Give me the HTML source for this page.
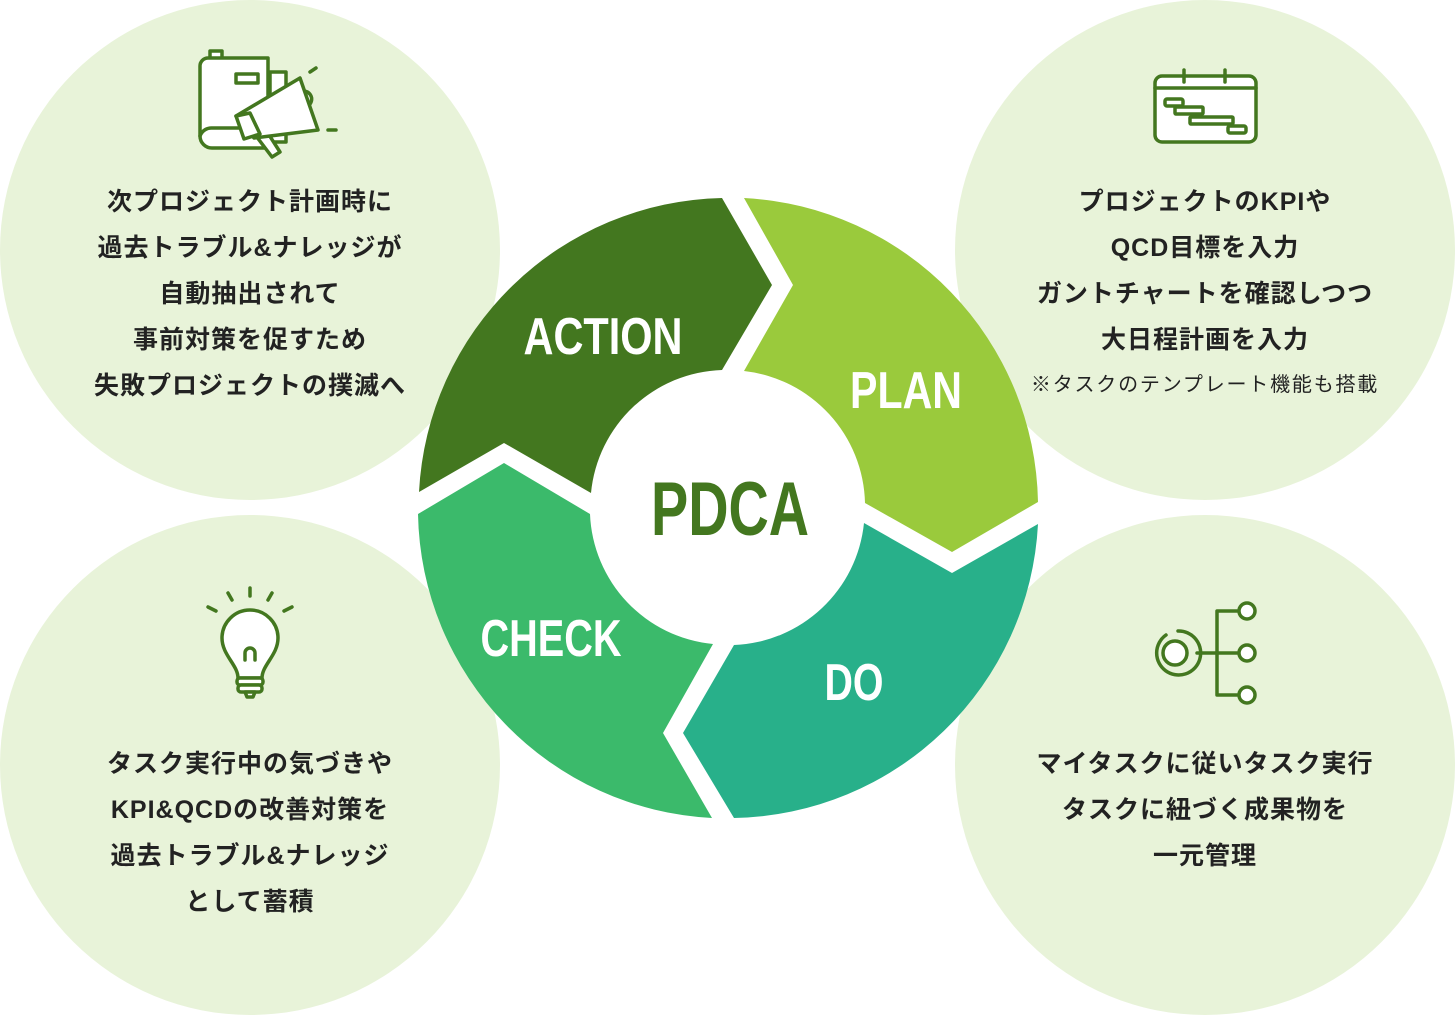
<!DOCTYPE html>
<html><head><meta charset="utf-8"><style>
html,body{margin:0;padding:0;background:#fff;}
svg{display:block}
.t{font-family:"Liberation Sans","Noto Sans CJK JP",sans-serif;font-weight:bold;font-size:25px;letter-spacing:1px;fill:#222;text-anchor:middle}
.s{font-family:"Liberation Sans","Noto Sans CJK JP",sans-serif;font-size:20px;letter-spacing:1.8px;fill:#222;text-anchor:middle}
.l{font-family:"Liberation Sans",sans-serif;font-weight:bold;fill:#fff;text-anchor:middle}
.ic{fill:#fff;stroke:#43771f;stroke-width:3.5;stroke-linejoin:round;stroke-linecap:round}
.ln{fill:none;stroke:#43771f;stroke-width:3.5;stroke-linecap:round}
</style></head><body>
<svg width="1456" height="1016" viewBox="0 0 1456 1016" xmlns="http://www.w3.org/2000/svg">
<g fill="#e8f3d9">
<circle cx="250" cy="250" r="250"/>
<circle cx="1205" cy="250" r="250"/>
<circle cx="250" cy="765" r="250"/>
<circle cx="1205" cy="765" r="250"/>
</g>
<path fill="#43771f" d="M722,198 L772,285 L722,370 A136,136 0 0 0 591,493 L504,443 L419,492 A310,310 0 0 1 722,198 Z"/>
<path fill="#9aca3c" d="M744,198 A310,310 0 0 1 1038,502 L952,552 L865,503 A136,136 0 0 0 744,371 L793,285 Z"/>
<path fill="#28b08a" d="M1038,524 A310,310 0 0 1 734,818 L683,733 L734,645 A136,136 0 0 0 864,523 L952,573 Z"/>
<path fill="#3bba6b" d="M712,818 A310,310 0 0 1 418,514 L504,463 L590,514 A136,136 0 0 0 713,644 L663,733 Z"/>
<text class="l" x="603" y="354" font-size="52" textLength="159" lengthAdjust="spacingAndGlyphs">ACTION</text>
<text class="l" x="906" y="408" font-size="52" textLength="112" lengthAdjust="spacingAndGlyphs">PLAN</text>
<text class="l" x="551" y="656" font-size="52" textLength="141" lengthAdjust="spacingAndGlyphs">CHECK</text>
<text class="l" x="854" y="700" font-size="52" textLength="59" lengthAdjust="spacingAndGlyphs">DO</text>
<text x="730" y="535" font-family="Liberation Sans,sans-serif" font-weight="bold" font-size="76" fill="#43771f" text-anchor="middle" textLength="158" lengthAdjust="spacingAndGlyphs">PDCA</text>

<g class="t">
<text x="250" y="210">次プロジェクト計画時に</text>
<text x="250" y="256">過去トラブル&amp;ナレッジが</text>
<text x="250" y="302">自動抽出されて</text>
<text x="250" y="348">事前対策を促すため</text>
<text x="250" y="394">失敗プロジェクトの撲滅へ</text>
<text x="1205" y="210">プロジェクトのKPIや</text>
<text x="1205" y="256">QCD目標を入力</text>
<text x="1205" y="302">ガントチャートを確認しつつ</text>
<text x="1205" y="348">大日程計画を入力</text>
<text x="250" y="772">タスク実行中の気づきや</text>
<text x="250" y="818">KPI&amp;QCDの改善対策を</text>
<text x="250" y="864">過去トラブル&amp;ナレッジ</text>
<text x="250" y="910">として蓄積</text>
<text x="1205" y="772">マイタスクに従いタスク実行</text>
<text x="1205" y="818">タスクに紐づく成果物を</text>
<text x="1205" y="864">一元管理</text>
</g>
<text class="s" x="1205" y="391">※タスクのテンプレート機能も搭載</text>

<rect class="ic" x="210" y="51" width="12" height="8"/>
<rect class="ic" x="270" y="72" width="16" height="70"/>
<path class="ic" d="M208,58 H268 V148 H212 A12,12 0 0 1 200,136 V66 A8,8 0 0 1 208,58 Z"/>
<path class="ic" d="M200,136 A12,12 0 0 1 212,128 H268"/>
<rect class="ic" x="236" y="74" width="22" height="9"/>
<path class="ic" d="M300,92 A8,8 0 0 1 310,104 L304,110"/>
<path class="ic" d="M250,128 L272,157 L280,152 L262,124 Z"/>
<path class="ic" d="M236,116 L300,78 L318,130 L254,138 Z"/>
<path class="ic" d="M236,116 L250,113 L260,134 L244,139 Z"/>
<path class="ln" d="M310,72 L316,68 M328,130 H336"/>

<rect class="ic" x="1155" y="76" width="101" height="66" rx="7"/>
<path class="ln" d="M1155,88 H1256 M1184,70 V82 M1225,70 V82"/>
<rect class="ic" x="1165" y="99" width="18" height="7" rx="2"/>
<rect class="ic" x="1175" y="107" width="28" height="7" rx="1"/>
<rect class="ic" x="1190" y="117" width="43" height="7" rx="1"/>
<rect class="ic" x="1228" y="126" width="18" height="7" rx="2"/>

<path class="ln" d="M1166,635 A22,22 0 1 0 1178,631"/>
<circle class="ic" cx="1175" cy="653" r="12"/>
<path class="ln" d="M1197,653 H1217 M1217,611 V695 M1217,611 H1237 M1217,653 H1237 M1217,695 H1237"/>
<circle class="ic" cx="1247" cy="611" r="8"/>
<circle class="ic" cx="1247" cy="653" r="8"/>
<circle class="ic" cx="1247" cy="695" r="8"/>

<path class="ic" d="M238,678 C238,665 222,655 222,638 A28,28 0 0 1 278,638 C278,655 262,665 262,678 Z"/>
<path class="ln" d="M245,660 V653 A5,5 0 0 1 255,653 V660"/>
<rect class="ic" x="237" y="678" width="26" height="7" rx="3"/>
<rect class="ic" x="238" y="685" width="24" height="7" rx="3"/>
<path class="ic" d="M245,692 H255 L253,697 H247 Z"/>
<path class="ln" d="M250,588 V596 M228,593 L232,600 M272,593 L268,600 M208,607 L216,611 M292,607 L284,611"/>
</svg>
</body></html>
